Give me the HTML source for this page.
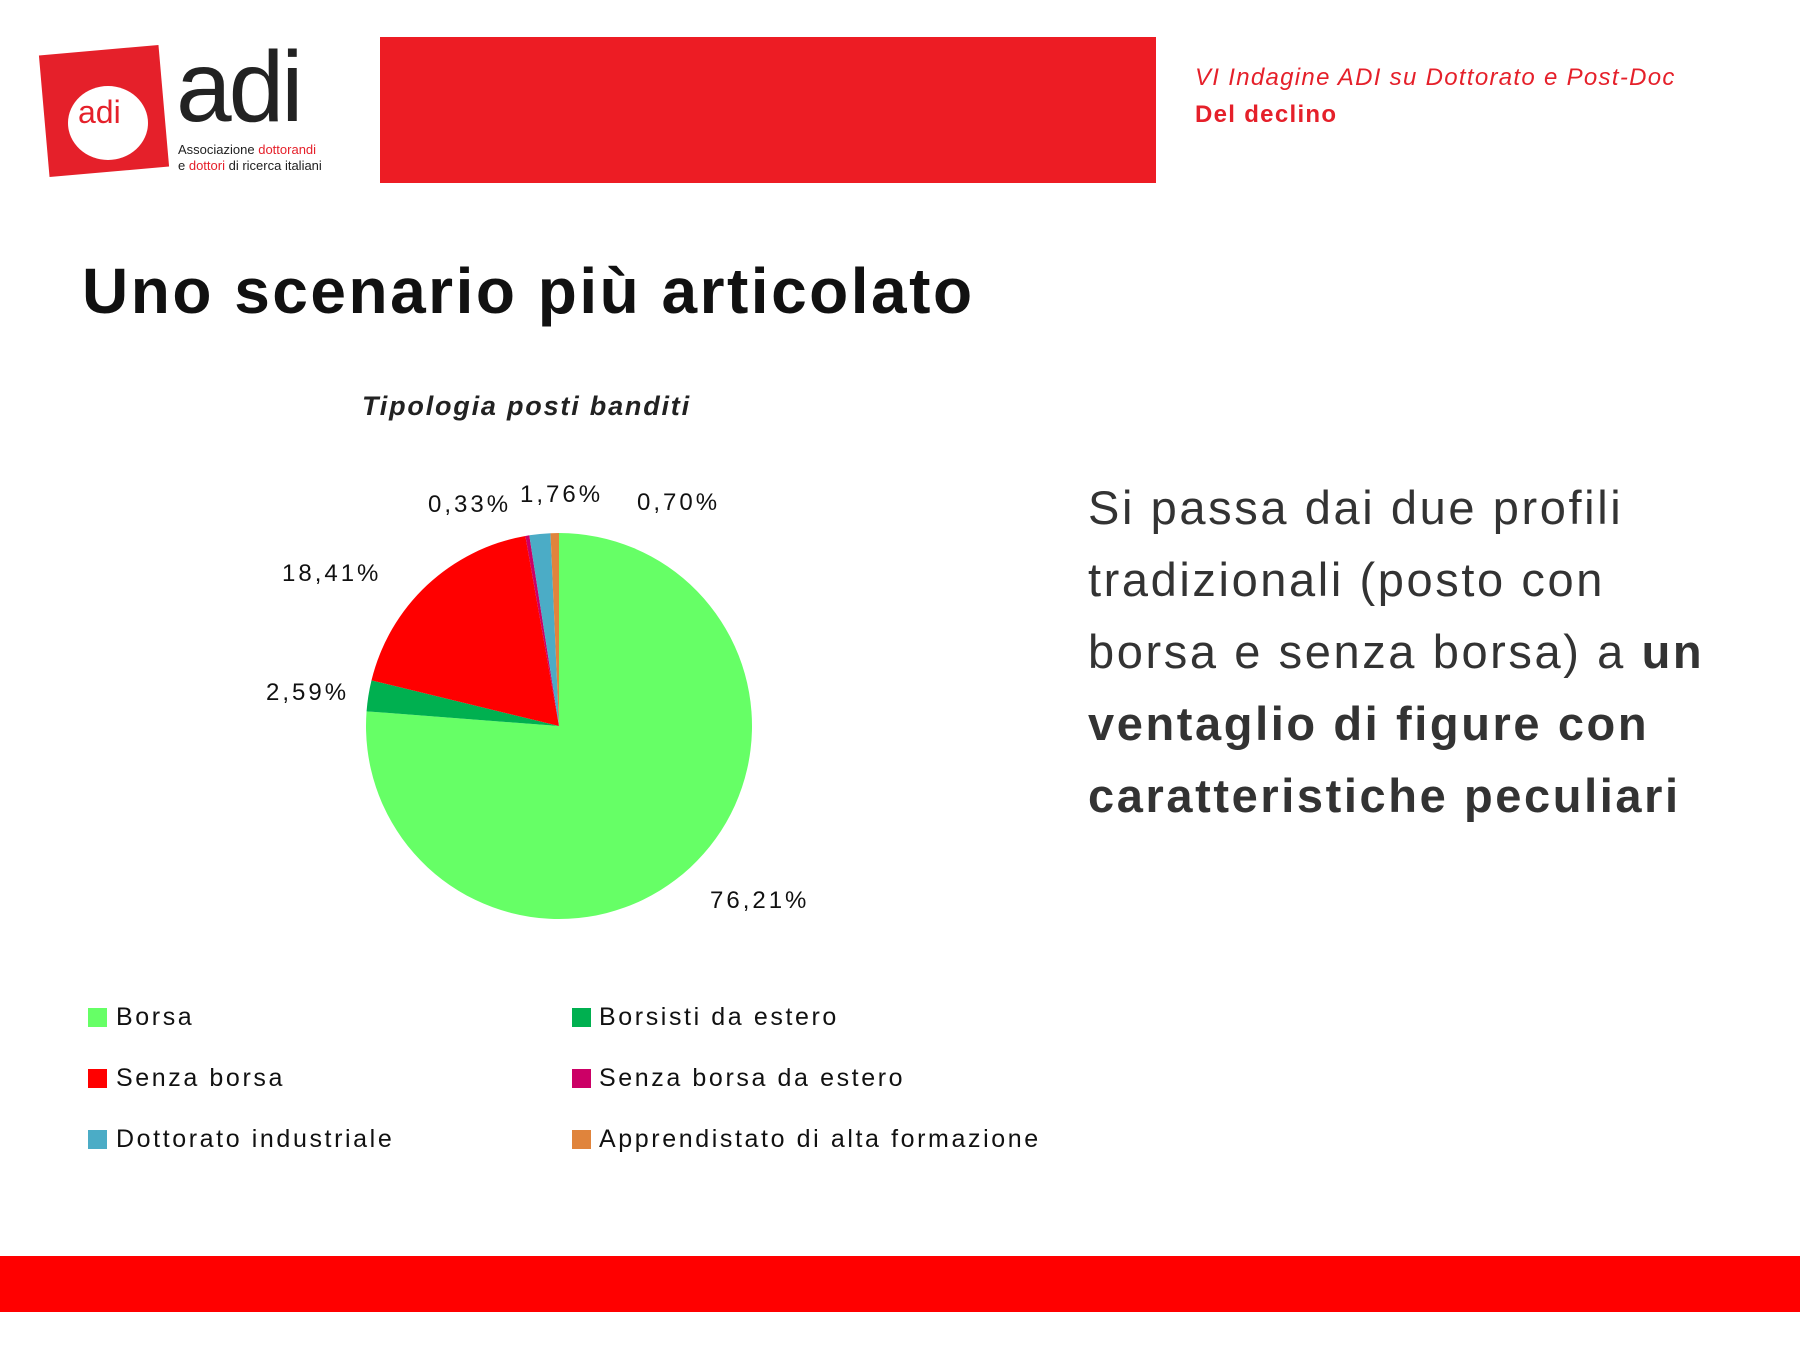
<!DOCTYPE html>
<html><head><meta charset="utf-8"><style>
body{margin:0;width:1800px;height:1350px;background:#fff;position:relative;overflow:hidden;font-family:"Liberation Sans",sans-serif}
.a{position:absolute;white-space:nowrap}
.lbl{font-size:24px;color:#111;letter-spacing:3px}
.lg{font-size:25px;color:#111;letter-spacing:2.6px}
.sq{position:absolute;width:19px;height:19px}
.rt{font-size:47px;color:#333;line-height:72px;letter-spacing:2.6px}
</style></head><body>
<!-- logo -->
<div class="a" style="left:44px;top:50px;width:120px;height:122px;background:#e5202a;transform:rotate(-5deg)"></div>
<div class="a" style="left:68px;top:86px;width:80px;height:74px;border-radius:50%;background:#fff"></div>
<div class="a" style="left:78px;top:94px;font-size:32px;color:#e5202a">adi</div>
<div class="a" style="left:176px;top:30px;font-size:100px;color:#222;letter-spacing:-3px">adi</div>
<div class="a" style="left:178px;top:142px;font-size:13px;color:#222;line-height:16px">Associazione <span style="color:#e5202a">dottorandi</span><br>e <span style="color:#e5202a">dottori</span> di ricerca italiani</div>
<div class="a" style="left:380px;top:37px;width:776px;height:146px;background:#ed1c24"></div>
<div class="a" style="left:1195px;top:64px;font-size:24px;color:#e5202a;font-style:italic;letter-spacing:1.3px">VI Indagine ADI su Dottorato e Post-Doc</div>
<div class="a" style="left:1195px;top:101px;font-size:24px;color:#e5202a;font-weight:bold;letter-spacing:1.3px">Del declino</div>
<div class="a" style="left:82px;top:254px;font-size:64px;font-weight:bold;color:#111;letter-spacing:2.5px">Uno scenario più articolato</div>
<div class="a" style="left:362px;top:391px;font-size:27px;font-weight:bold;font-style:italic;color:#222;letter-spacing:1.8px">Tipologia posti banditi</div>
<svg class="a" style="left:0;top:0" width="1800" height="1350">
<path d="M559,726 L559,533 A193,193 0 1 1 366.56,711.33 Z" fill="#66ff66"/>
<path d="M559,726 L366.56,711.33 A193,193 0 0 1 371.48,680.36 Z" fill="#00b050"/>
<path d="M559,726 L371.48,680.36 A193,193 0 0 1 525.35,535.95 Z" fill="#ff0000"/>
<path d="M559,726 L525.35,535.95 A193,193 0 0 1 529.3,535.3 Z" fill="#cc0066"/>
<path d="M559,726 L529.3,535.3 A193,193 0 0 1 550.51,533.19 Z" fill="#4bacc6"/>
<path d="M559,726 L550.51,533.19 A193,193 0 0 1 559,533 Z" fill="#e0843c"/>
</svg>
<div class="a lbl" style="left:710px;top:887px">76,21%</div>
<div class="a lbl" style="left:266px;top:679px">2,59%</div>
<div class="a lbl" style="left:282px;top:560px">18,41%</div>
<div class="a lbl" style="left:428px;top:491px">0,33%</div>
<div class="a lbl" style="left:520px;top:481px">1,76%</div>
<div class="a lbl" style="left:637px;top:489px">0,70%</div>
<div class="sq" style="left:88px;top:1008px;background:#66ff66"></div><div class="a lg" style="left:116px;top:1003px">Borsa</div>
<div class="sq" style="left:88px;top:1069px;background:#ff0000"></div><div class="a lg" style="left:116px;top:1064px">Senza borsa</div>
<div class="sq" style="left:88px;top:1130px;background:#4bacc6"></div><div class="a lg" style="left:116px;top:1125px">Dottorato industriale</div>
<div class="sq" style="left:572px;top:1008px;background:#00b050"></div><div class="a lg" style="left:599px;top:1003px">Borsisti da estero</div>
<div class="sq" style="left:572px;top:1069px;background:#cc0066"></div><div class="a lg" style="left:599px;top:1064px">Senza borsa da estero</div>
<div class="sq" style="left:572px;top:1130px;background:#e0843c"></div><div class="a lg" style="left:599px;top:1125px">Apprendistato di alta formazione</div>
<div class="a rt" style="left:1088px;top:472px">Si passa dai due profili<br>tradizionali (posto con<br>borsa e senza borsa) a <b>un</b><br><b>ventaglio di figure con</b><br><b>caratteristiche peculiari</b></div>
<div class="a" style="left:0;top:1256px;width:1800px;height:56px;background:#ff0000"></div>
</body></html>
